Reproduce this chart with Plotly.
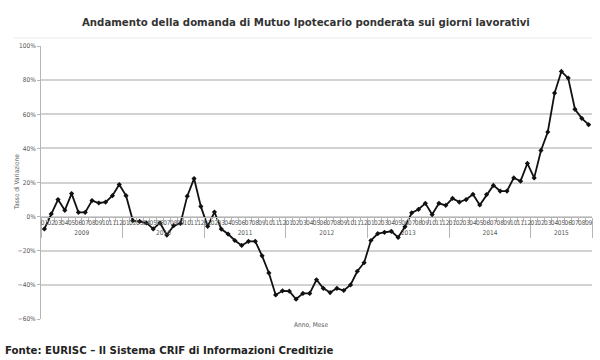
import plotly.graph_objects as go

years = ["2009", "2010", "2011", "2012", "2013", "2014", "2015"]
months = ["01", "02", "03", "04", "05", "06", "07", "08", "09", "10", "11", "12"]

v2009 = [-7.2, 1.6, 10.0, 3.7, 13.5, 2.5, 2.5, 9.4, 8.0, 8.5, 12.3, 18.8]
v2010 = [12.3, -2.3, -2.8, -3.7, -7.2, -3.7, -10.8, -5.3, -4.0, 12.0, 22.3, 6.0]
v2011 = [-5.7, 2.7, -7.3, -10.2, -14.0, -16.9, -14.5, -14.5, -23.0, -33.0, -45.9, -43.5]
v2012 = [-43.7, -48.4, -45.0, -45.0, -37.0, -42.0, -44.5, -42.0, -43.3, -40.0, -32.0, -27.0]
v2013 = [-14.0, -10.0, -9.2, -8.6, -12.2, -6.0, 2.2, 4.3, 7.8, 1.2, 7.8, 6.6]
v2014 = [10.7, 8.5, 10.0, 13.1, 6.8, 12.9, 18.3, 15.0, 15.0, 22.7, 20.8, 31.2]
v2015 = [22.7, 38.8, 49.6, 72.4, 85.1, 81.2, 62.9, 57.6, 53.9]

series = [v2009, v2010, v2011, v2012, v2013, v2014, v2015]

x_year, x_month, y_vals = [], [], []
for yr, vals in zip(years, series):
    for m, v in zip(months, vals):
        x_year.append(yr)
        x_month.append(m)
        y_vals.append(v)

title_text = "Andamento della domanda di Mutuo Ipotecario ponderata sui giorni lavorativi"
footer_text = "Fonte: EURISC – Il Sistema CRIF di Informazioni Creditizie"
ytitle = "Tasso di Variazione"
xtitle = "Anno, Mese"

fig = go.Figure()
fig.add_trace(go.Scatter(
    x=[x_year, x_month], y=y_vals,
    mode="lines+markers",
    line=dict(color="#111111", width=1.8),
    marker=dict(symbol="diamond", size=4, color="#111111"),
    hoverinfo="skip",
))

FONT = "DejaVu Sans Condensed, DejaVu Sans, sans-serif"
axfont = dict(family=FONT, size=6.5, color="#555555")

fig.update_layout(
    width=600, height=360,
    margin=dict(l=41, r=8, t=46, b=41),
    paper_bgcolor="white", plot_bgcolor="white",
    showlegend=False,
    xaxis=dict(
        type="multicategory",
        anchor="free", position=0.375,
        range=[-0.5, len(y_vals) - 0.5],
        showline=True, linecolor="#b5b5b5", linewidth=1,
        ticks="outside", tickson="boundaries", ticklen=4, tickcolor="#b5b5b5",
        dividercolor="#b5b5b5", dividerwidth=1,
        tickfont=axfont, tickangle=0, dtick=1,
        showgrid=False, zeroline=False, automargin=False,
    ),
    yaxis=dict(
        range=[-60, 100], dtick=20, ticksuffix="%",
        showgrid=True, gridcolor="#d2d2d2", gridwidth=2,
        showline=True, linecolor="#b5b5b5", linewidth=1,
        ticks="outside", ticklen=3, tickcolor="#b5b5b5",
        tickfont=axfont, zeroline=False, automargin=False,
    ),
    annotations=[
        dict(text="<b>" + title_text + "</b>", xref="paper", yref="paper",
             x=0.481, y=1, xanchor="center", yanchor="middle", yshift=24,
             showarrow=False, font=dict(family=FONT, size=11.3, color="#333333")),
        dict(text=ytitle, xref="paper", yref="paper", x=-0.044, y=0.5,
             textangle=-90, showarrow=False, xanchor="center", yanchor="middle",
             font=dict(family=FONT, size=6.5, color="#555555")),
        dict(text=xtitle, xref="paper", yref="paper", x=0.49, y=0, yshift=-6,
             xanchor="center", yanchor="middle", showarrow=False,
             font=dict(family=FONT, size=6.5, color="#555555")),
        dict(text="<b>" + footer_text + "</b>", xref="paper", yref="paper",
             x=-38 / 551, y=0, yshift=-31, xanchor="left", yanchor="middle",
             showarrow=False, font=dict(family=FONT, size=11.3, color="#222222")),
    ],
    shapes=[
        dict(type="line", xref="paper", yref="paper", x0=-0.05, x1=1.0,
             y0=1 + 8 / 273, y1=1 + 8 / 273, line=dict(color="#ebebeb", width=1)),
    ],
)

fig.write_html("out.html", config={"displayModeBar": False},
               post_script="document.body.style.margin='0';")
